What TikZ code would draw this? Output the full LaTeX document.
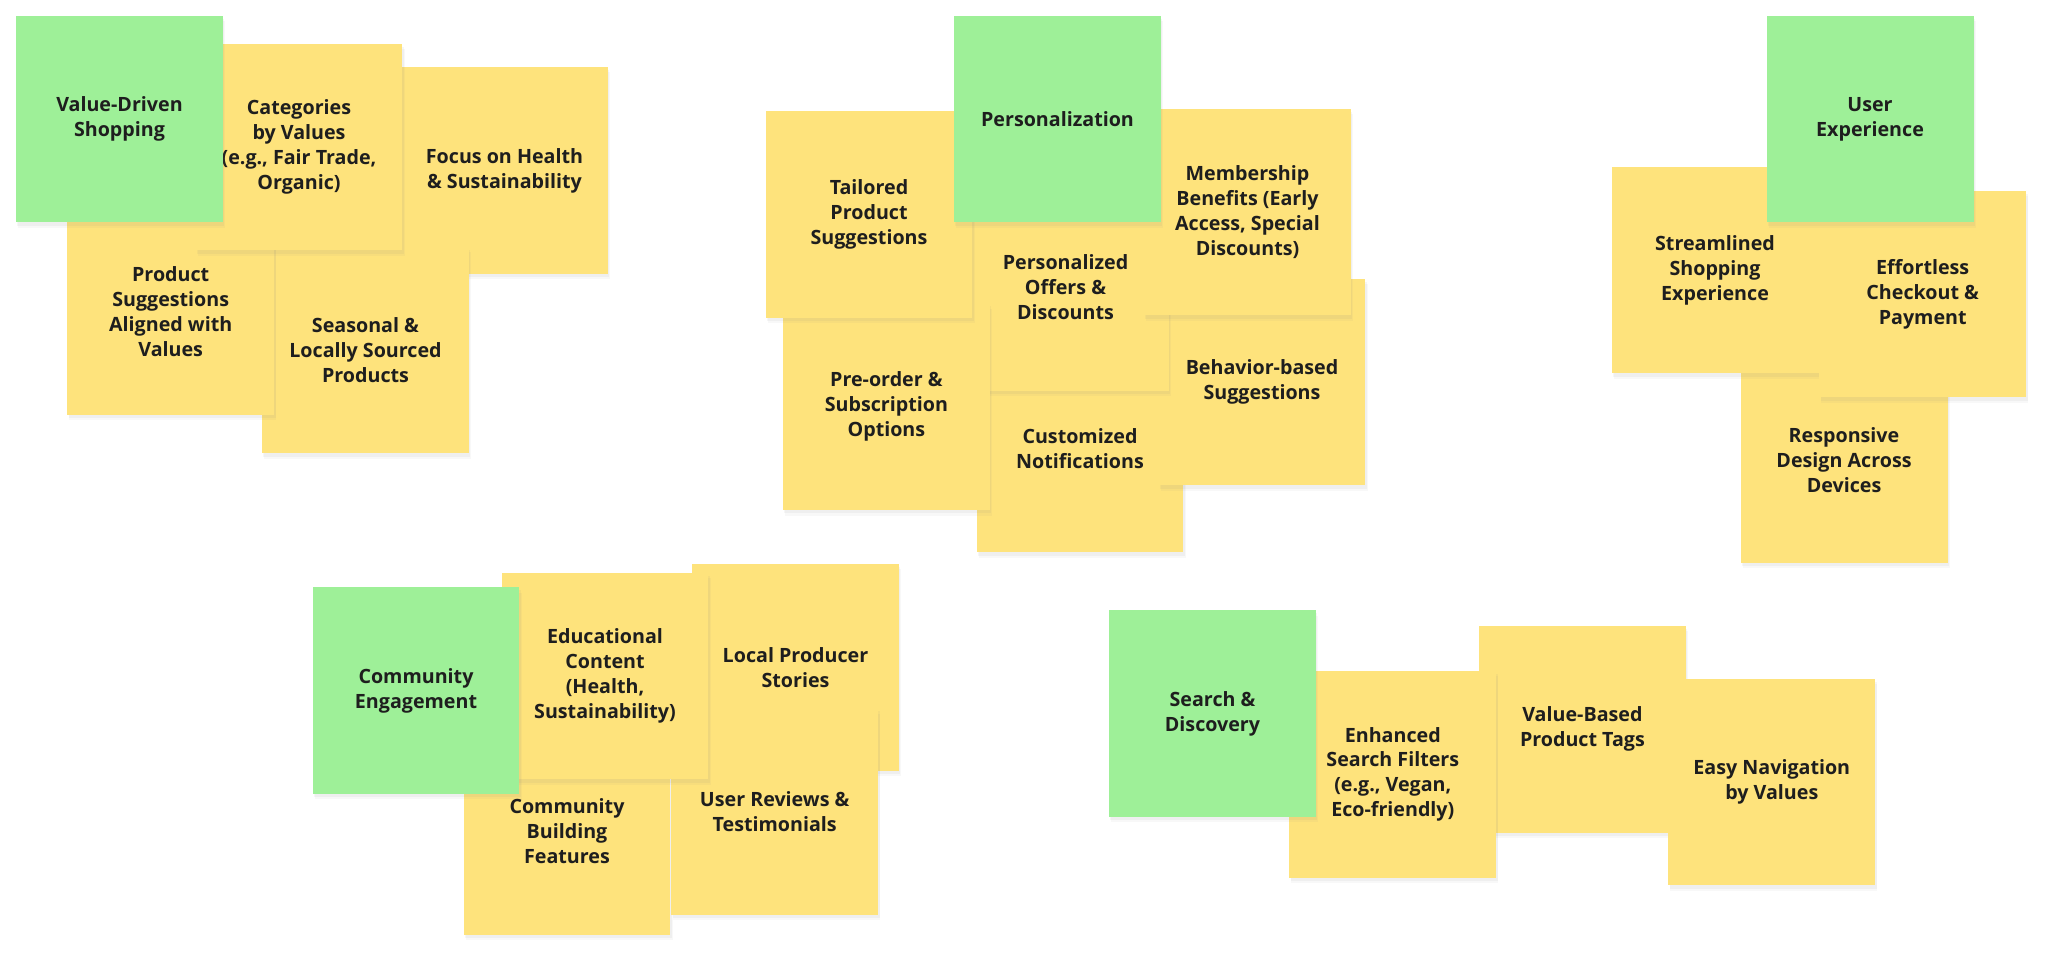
\documentclass[tikz,border=0pt]{standalone}
\usepackage{fontspec}
\setmainfont{Open Sans}
\usepackage{xcolor}
\definecolor{topicgreen}{RGB}{158,240,152}
\definecolor{noteyellow}{RGB}{254,227,124}
\definecolor{notetext}{RGB}{30,30,30}
\usetikzlibrary{shadows}

\begin{document}
\begin{tikzpicture}[x=0.02cm, y=-0.02cm,
    sticky/.style={rectangle, minimum width=4.14cm, minimum height=4.14cm,
                   inner sep=0pt, align=center, text=notetext,
                   font=\fontsize{11.2}{14.2}\selectfont\bfseries,
                   drop shadow={shadow xshift=1.2pt, shadow yshift=-3pt, opacity=0.05},
                   drop shadow={shadow xshift=0.8pt, shadow yshift=-1.8pt, opacity=0.07}},
    topic/.style={sticky, fill=topicgreen},
    note/.style={sticky, fill=noteyellow}
  ]
    \fill[white] (0,0) rectangle (2048,957);
    \useasboundingbox (0,0) rectangle (2048,957);

    % Value-Driven Shopping
    \node[note] (focus) at (504.5,170.7) {Focus on Health\\ \& Sustainability};
    \node[note] (seas)  at (365.5,350)   {Seasonal \&\\ Locally Sourced\\ Products};
    \node[note] (prod)  at (170.7,311.5) {Product\\ Suggestions\\ Aligned with\\ Values};
    \node[note] (cat)   at (299,147)     {Categories\\ by Values\\ (e.g., Fair Trade,\\ Organic)};
    \node[topic] (vds)  at (119.5,119)   {Value-Driven\\ Shopping};

    % Personalization
    \node[note] (cust)   at (1080,449)     {Customized\\ Notifications};
    \node[note] (behav)  at (1262,382)     {Behavior-based\\ Suggestions};
    \node[note] (offers) at (1065.5,287.3) {Personalized\\ Offers \&\\ Discounts};
    \node[note] (preord) at (886.4,406.8)  {Pre-order \&\\ Subscription\\ Options};
    \node[note] (tail)   at (869,214.5)    {Tailored\\ Product\\ Suggestions};
    \node[note] (memb)   at (1247.5,212)   {Membership\\ Benefits (Early\\ Access, Special\\ Discounts)};
    \node[topic] (pers)  at (1057.5,119)   {Personalization};

    % User Experience
    \node[note] (resp)   at (1844,459.7)   {Responsive\\ Design Across\\ Devices};
    \node[note] (stream) at (1715,270)     {Streamlined\\ Shopping\\ Experience};
    \node[note] (effort) at (1922.7,294)   {Effortless\\ Checkout \&\\ Payment};
    \node[topic] (ux)    at (1870,119)     {User\\ Experience};

    % Community Engagement
    \node[note] (local)   at (795.5,667.3) {Local Producer\\ Stories};
    \node[note] (build)   at (567,831.5)   {Community\\ Building\\ Features};
    \node[note] (reviews) at (774.7,811.7) {User Reviews \&\\ Testimonials};
    \node[note] (edu)     at (605,676)     {Educational\\ Content\\ (Health,\\ Sustainability)};
    \node[topic] (comm)   at (416,690.7)   {Community\\ Engagement};

    % Search & Discovery
    \node[note] (tags)   at (1582.4,729.3) {Value-Based\\ Product Tags};
    \node[note] (enh)    at (1392.8,774.3) {Enhanced\\ Search Filters\\ (e.g., Vegan,\\ Eco-friendly)};
    \node[note] (easy)   at (1771.8,782)   {Easy Navigation\\ by Values};
    \node[topic] (search) at (1212.5,713.7) {Search \&\\ Discovery};
  \end{tikzpicture}
\end{document}
